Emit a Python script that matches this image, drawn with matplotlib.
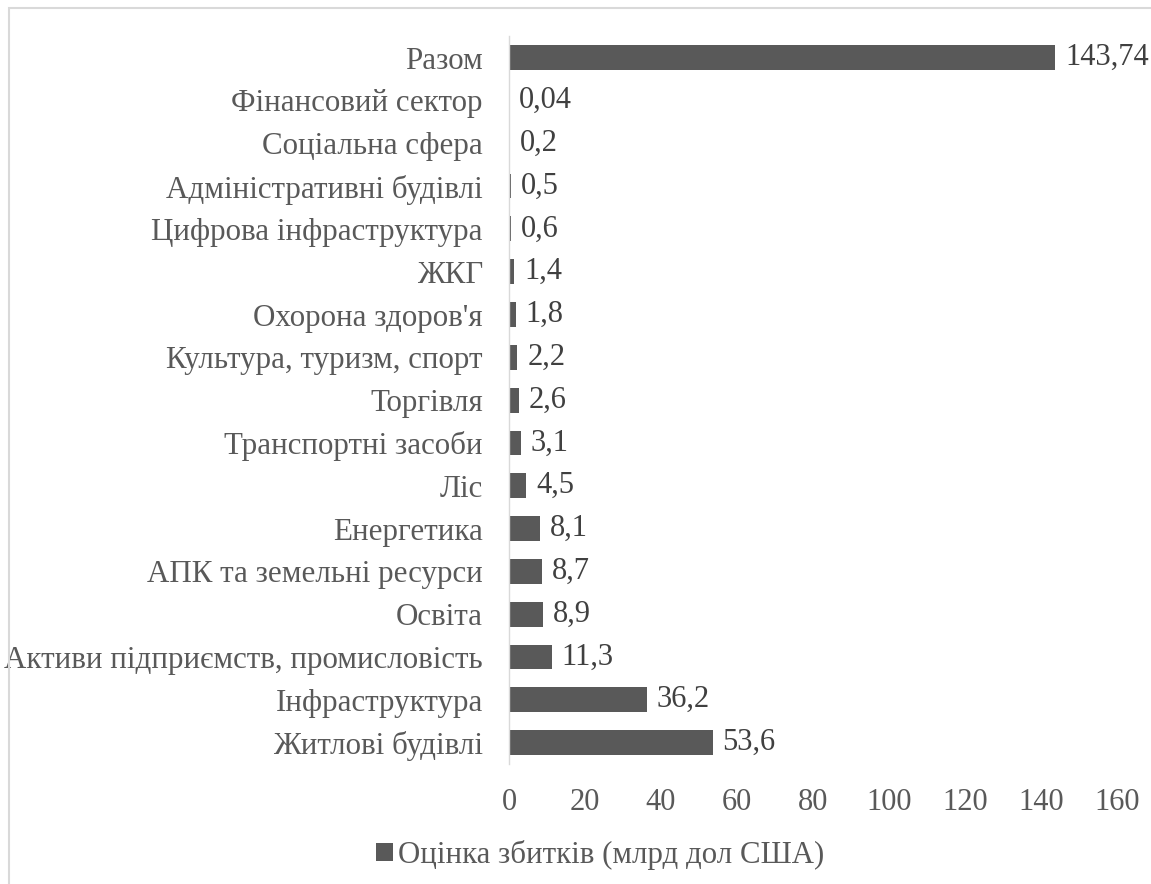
import matplotlib.pyplot as plt
from matplotlib.patches import Rectangle

plt.rcParams['font.family'] = ['Liberation Serif', 'DejaVu Serif']

categories = ["Житлові будівлі", "Інфраструктура", "Активи підприємств, промисловість",
              "Освіта", "АПК та земельні ресурси", "Енергетика", "Ліс",
              "Транспортні засоби", "Торгівля", "Культура, туризм, спорт",
              "Охорона здоров'я", "ЖКГ", "Цифрова інфраструктура",
              "Адміністративні будівлі", "Соціальна сфера", "Фінансовий сектор", "Разом"]
values = [53.6, 36.2, 11.3, 8.9, 8.7, 8.1, 4.5, 3.1, 2.6, 2.2, 1.8, 1.4, 0.6, 0.5, 0.2, 0.04, 143.74]
value_labels = ["53,6", "36,2", "11,3", "8,9", "8,7", "8,1", "4,5", "3,1", "2,6", "2,2",
                "1,8", "1,4", "0,6", "0,5", "0,2", "0,04", "143,74"]
legend_label = "Оцінка збитків (млрд дол США)"

fig = plt.figure(figsize=(11.51, 8.84), dpi=100)
ax = fig.add_axes([0.4422, 0.1357, 0.5283, 0.8233])

bar_color = '#595959'
ypos = range(len(categories))
ax.barh(ypos, values, height=0.58, color=bar_color, label=legend_label)

for y, v, lab in zip(ypos, values, value_labels):
    ax.text(v + 2.6, y, lab, va='center', ha='left', fontsize=22, color='#404040')

ax.set_xlim(0, 160)
ax.set_ylim(-0.5, len(categories) - 0.5)
ax.set_xticks(range(0, 161, 20))
ax.set_yticks(list(ypos))
ax.set_yticklabels(categories)
ax.tick_params(axis='both', length=0, labelsize=22, labelcolor='#595959')
ax.tick_params(axis='y', labelsize=22.3)
ax.tick_params(axis='x', pad=17)
ax.tick_params(axis='y', pad=18.7)

for s in ['top', 'right', 'bottom']:
    ax.spines[s].set_visible(False)
ax.spines['left'].set_color('#d9d9d9')
ax.spines['left'].set_linewidth(1)

fig.legend(loc='center', bbox_to_anchor=(600 / 1151, 1 - 855 / 884), frameon=False,
           fontsize=22.2, labelcolor='#595959', handlelength=0.55, handleheight=0.55,
           handletextpad=0.15)

# only the top and left edges of the chart frame are inside the picture
fig.patches.append(Rectangle((9 / 1151, -0.1), 1.2, 1.1 - 8 / 884,
                             transform=fig.transFigure, fill=False,
                             edgecolor='#d9d9d9', linewidth=1.5))

fig.savefig('out.png', dpi=100)
